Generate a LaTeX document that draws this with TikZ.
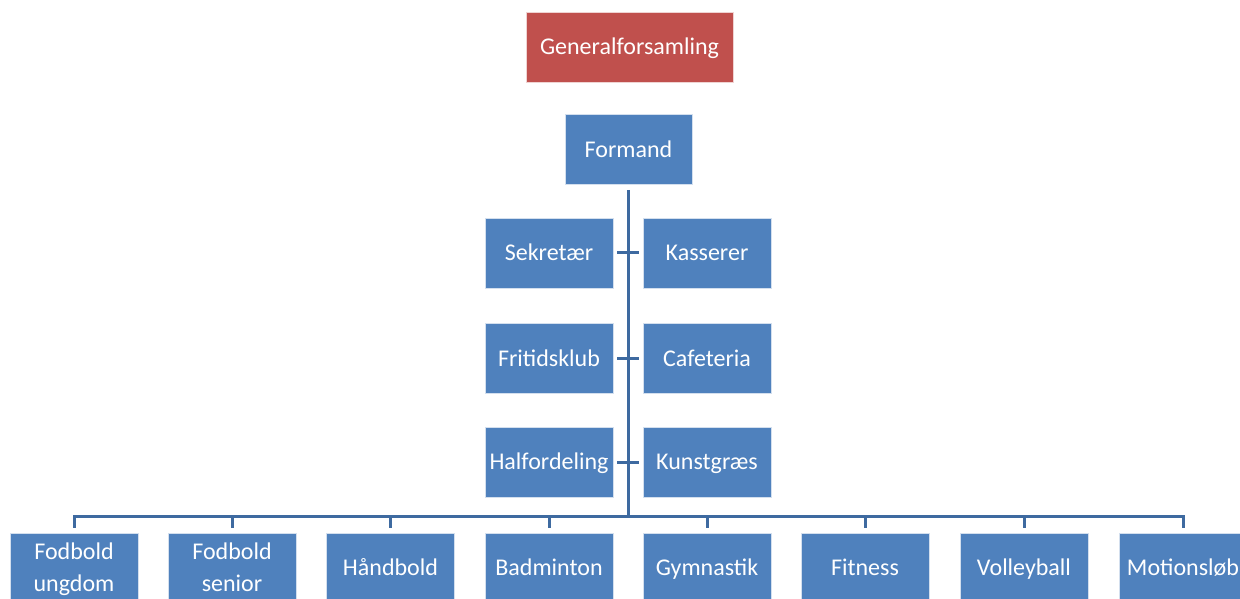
\documentclass[tikz,border=0pt]{standalone}
\usepackage{fontspec}
\setmainfont{Carlito}
\usepackage{tikz}
\definecolor{boxblue}{RGB}{79,129,189}
\definecolor{boxred}{RGB}{192,80,77}
\definecolor{linkblue}{RGB}{62,106,160}
\tikzset{
  orgbox/.style={fill=boxblue,draw=white!75!boxblue,line width=0.4pt,text=white,
    minimum width=96pt,minimum height=52.5pt,inner sep=0pt,align=center,
    text height=11.5pt,text depth=0pt,
    font=\fontsize{18}{24}\selectfont},
  twoline/.style={text height={},text depth=1pt},
  topbox/.style={orgbox,fill=boxred,draw=white!75!boxred,minimum width=155pt},
  link/.style={draw=linkblue,line width=2.25pt}
}
\begin{document}
\begin{tikzpicture}[x=0.75pt,y=0.75pt,yscale=-1,xscale=1]
\useasboundingbox (0,0) rectangle (1240,599);

%Shape: Rectangle [top]
\node [topbox] (gen) at (629.5,47) {Generalforsamling};
\node [orgbox,minimum width=95.25pt] (formand) at (628.5,149.5) {Formand};

% Staff boxes
\node [orgbox] (sekretaer) at (549,253) {Sekretær};
\node [orgbox] (kasserer) at (707,253) {Kasserer};
\node [orgbox] (fritid) at (549,358.5) {Fritidsklub};
\node [orgbox] (cafe) at (707,358.5) {Cafeteria};
\node [orgbox] (hal) at (549,462) {Halfordeling};
\node [orgbox] (kunst) at (707,462) {Kunstgræs};

% Department boxes
\node [orgbox,twoline] (b1) at (74,568) {Fodbold\\ungdom};
\node [orgbox,twoline] (b2) at (232,568) {Fodbold\\senior};
\node [orgbox] (b3) at (390.5,568) {Håndbold};
\node [orgbox] (b4) at (549,568) {Badminton};
\node [orgbox] (b5) at (707,568) {Gymnastik};
\node [orgbox] (b6) at (865,568) {Fitness};
\node [orgbox] (b7) at (1024,568) {Volleyball};
\node [orgbox] (b8) at (1183,568) {Motionsløb};

%Straight Lines
\coordinate (bus) at (628.5,516);
\draw [link,shorten <=3.75pt] (formand.south) -- (bus);
\draw [link,shorten <=3pt,shorten >=3pt] (sekretaer.east) -- (kasserer.west);
\draw [link,shorten <=3pt,shorten >=3pt] (fritid.east) -- (cafe.west);
\draw [link,shorten <=3pt,shorten >=3pt] (hal.east) -- (kunst.west);
\foreach \b in {b1,b2,b3,b4,b5,b6,b7,b8}
  \draw [link,shorten <=3.75pt] (\b.north) |- (bus);

\end{tikzpicture}
\end{document}
